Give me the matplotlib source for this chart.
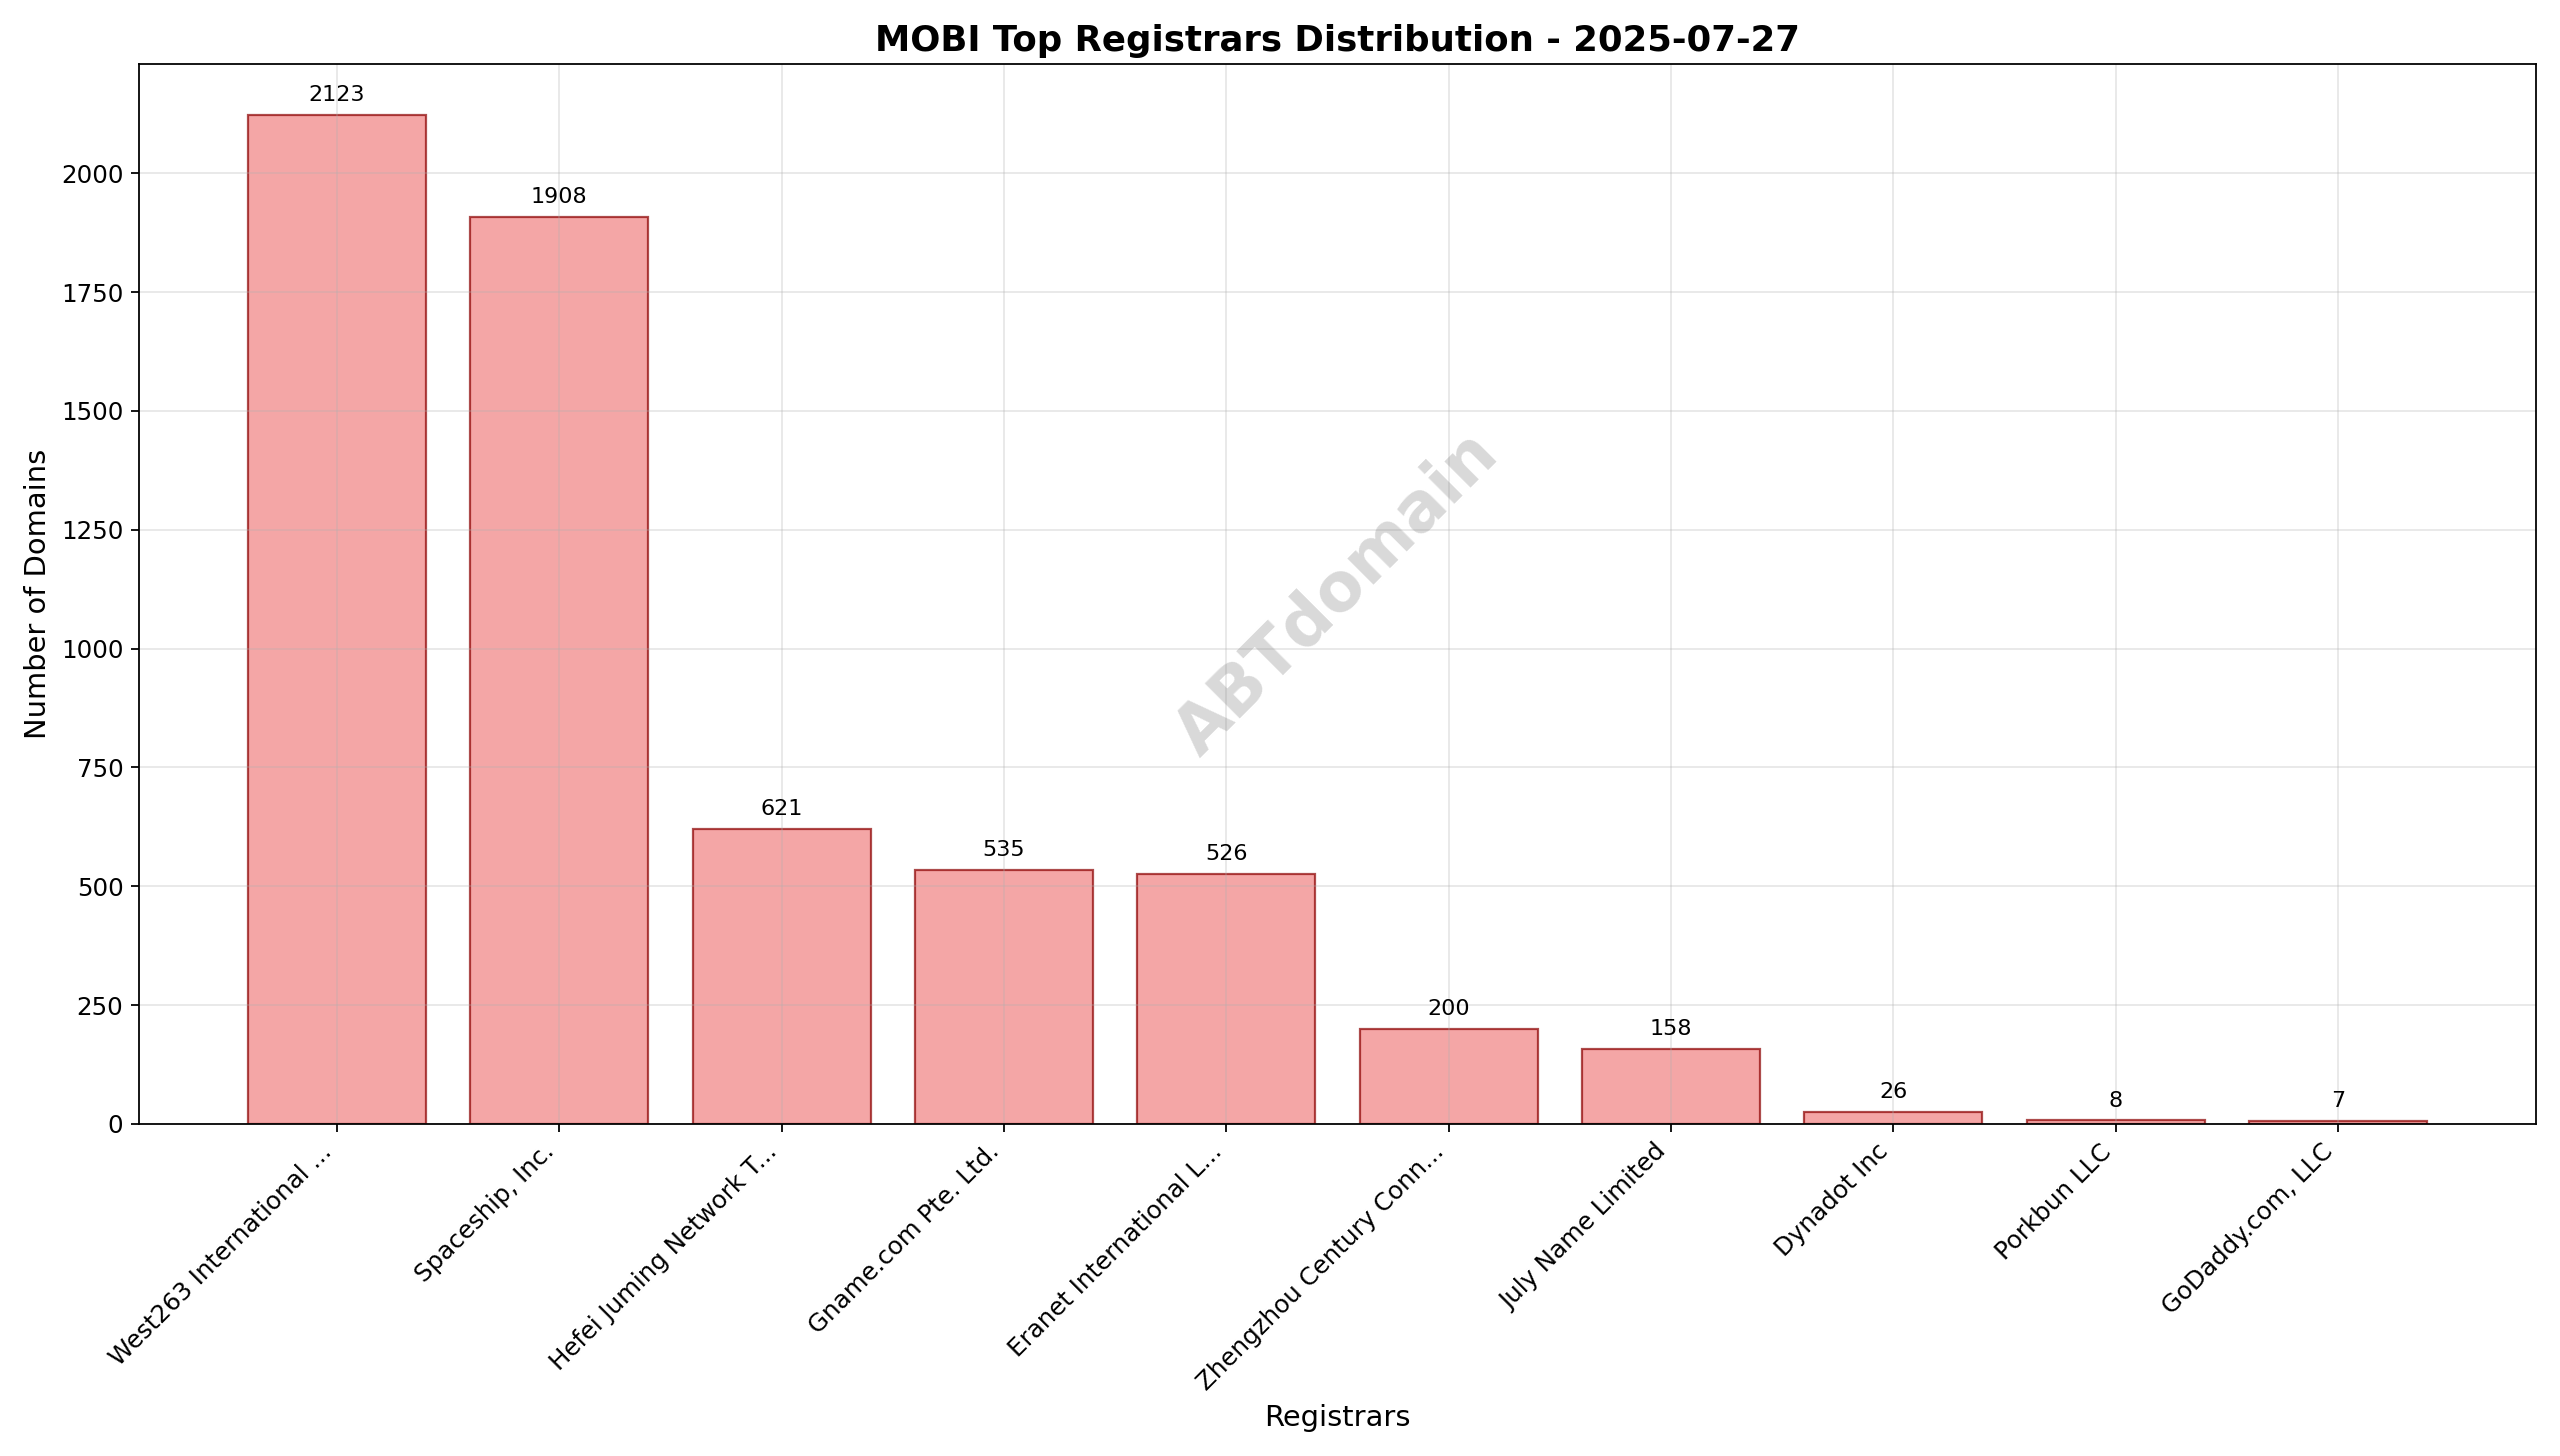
import matplotlib
matplotlib.use("Agg")
import matplotlib.pyplot as plt

registrars = ["West263 International ...", "Spaceship, Inc.", "Hefei Juming Network T...",
              "Gname.com Pte. Ltd.", "Eranet International L...", "Zhengzhou Century Conn...",
              "July Name Limited", "Dynadot Inc", "Porkbun LLC", "GoDaddy.com, LLC"]
counts = [2123, 1908, 621, 535, 526, 200, 158, 26, 8, 7]

fig, ax = plt.subplots(figsize=(16, 9.1), dpi=160)
bars = ax.bar(registrars, counts, color="lightcoral", alpha=0.7, edgecolor="darkred", linewidth=1)
for b, v in zip(bars, counts):
    ax.text(b.get_x() + b.get_width() / 2, v + 20, str(v), ha="center", va="bottom", fontsize=10)
ax.set_title("MOBI Top Registrars Distribution - 2025-07-27", fontsize=16, fontweight="bold")
ax.set_xlabel("Registrars", fontsize=13)
ax.set_ylabel("Number of Domains", fontsize=13)
ax.tick_params(axis="x", labelsize=11)
ax.tick_params(axis="y", labelsize=11)
ax.grid(True, alpha=0.3)
plt.setp(ax.get_xticklabels(), rotation=45, ha="right")
ax.text(0.5, 0.5, "ABTdomain", transform=ax.transAxes, fontsize=30, color="gray", alpha=0.3,
        ha="center", va="center", rotation=45, fontweight="bold")
plt.tight_layout()
plt.savefig("out.png")
